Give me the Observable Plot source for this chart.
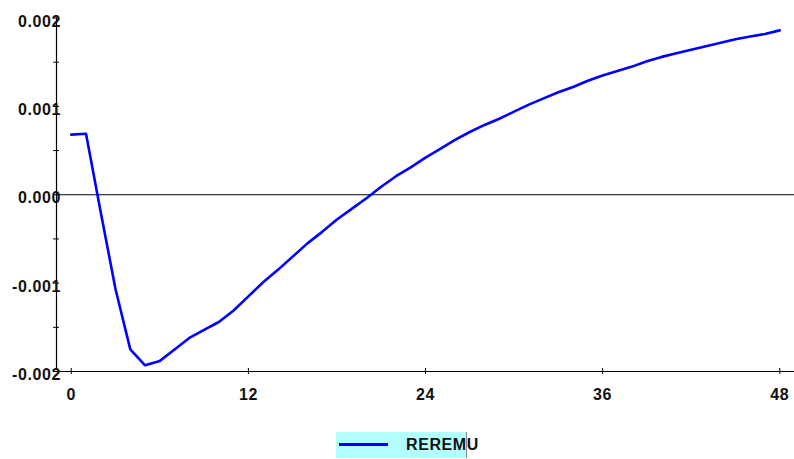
<!DOCTYPE html>
<html>
<head>
<meta charset="utf-8">
<script src="https://cdn.jsdelivr.net/npm/d3@7"></script>
<script src="https://cdn.jsdelivr.net/npm/@observablehq/plot@0.6"></script>
<style>
  html, body { margin: 0; padding: 0; background: #fff; }
  #wrap { position: relative; width: 794px; height: 459px; font-family: "Liberation Sans", Arial, sans-serif; }
  #chart svg text { letter-spacing: 0.6px; }
  #legend { position: absolute; left: 336px; top: 432px; width: 131px; height: 26px; background: #b4ffff; border-right: 1px solid #8a8a8a; box-sizing: border-box; }
  #legend .swatch { position: absolute; left: 3px; top: 10.5px; width: 49px; height: 3px; background: #0000ff; }
  #legend .label { position: absolute; left: 70px; top: 4px; font-weight: bold; font-size: 16px; letter-spacing: 0.6px; color: #111; white-space: nowrap; }
</style>
</head>
<body>
<div id="wrap">
  <div id="chart"></div>
  <div id="legend"><div class="swatch"></div><div class="label">REREMU</div></div>
</div>
<script>
const periods = d3.range(0, 49);
const reremu = [
  0.00068, 0.00069, -0.00020, -0.00107, -0.00175, -0.00193, -0.00188, -0.00175, -0.00162, -0.00153,
  -0.00144, -0.00131, -0.00115, -0.00099, -0.00085, -0.00070, -0.00055, -0.00042, -0.00028, -0.00016,
  -0.00004, 0.00009, 0.00021, 0.00031, 0.00042, 0.00052, 0.00062, 0.00071, 0.00079, 0.00086,
  0.00094, 0.00102, 0.00109, 0.00116, 0.00122, 0.00129, 0.00135, 0.00140, 0.00145, 0.00151,
  0.00156, 0.00160, 0.00164, 0.00168, 0.00172, 0.00176, 0.00179, 0.00182, 0.00186
];
const seriesName = "REREMU";
const xTicks = [0, 12, 24, 36, 48];
const yTicks = [-0.002, -0.001, 0.000, 0.001, 0.002];
const yMinorTicks = [-0.002, -0.0015, -0.001, -0.0005, 0, 0.0005, 0.001, 0.0015, 0.002];
const yLabels = ["-0.002", "-0.001", "0.000", "0.001", "0.002"];

const data = periods.map((t, i) => ({t, v: reremu[i]}));

const xMin = -1, xMax = 49;
const yMin = -0.002, yMax = 0.002;
const xTickHalf = 0.2;      // in x units (~3px)
const yTickHalf = 0.000035; // in y units (~3px)

const font = "'Liberation Sans', Arial, sans-serif";

const chart = Plot.plot({
  width: 794,
  height: 410,
  marginLeft: 56,
  marginRight: 0,
  marginTop: 17.5,
  marginBottom: 39,
  style: {fontFamily: font, fontSize: "16px", fontWeight: "bold", color: "#111", background: "#fff", overflow: "visible"},
  x: {domain: [xMin, xMax], label: null},
  y: {domain: [yMin, yMax], label: null},
  marks: [
    Plot.ruleY([0], {stroke: "#000", strokeWidth: 1}),
    Plot.ruleY([yMin], {stroke: "#000", strokeWidth: 1.2}),
    Plot.ruleX([xMin], {y1: yMin, y2: yMax, stroke: "#000", strokeWidth: 1.2, insetTop: -3}),
    Plot.ruleY(yMinorTicks, {x1: xMin - xTickHalf, x2: xMin + xTickHalf, stroke: "#000", strokeWidth: 1}),
    Plot.ruleX(xTicks, {y1: yMin - yTickHalf, y2: yMin + yTickHalf, stroke: "#000", strokeWidth: 1}),
    Plot.axisX({ticks: xTicks, tickSize: 0, tickPadding: 17, tickFormat: d => String(d), fontSize: 16, fontWeight: "bold", fill: "#111"}),
    Plot.axisY({ticks: yTicks, tickSize: 0, tickPadding: -4.5, dy: 3.5, tickFormat: d => yLabels[yTicks.indexOf(d)], fontSize: 16, fontWeight: "bold", fill: "#111"}),
    Plot.line(data, {x: "t", y: "v", stroke: "#0000ff", strokeWidth: 2.6, curve: "linear"})
  ]
});
chart.setAttribute("aria-label", seriesName);
document.getElementById("chart").appendChild(chart);
</script>
</body>
</html>
